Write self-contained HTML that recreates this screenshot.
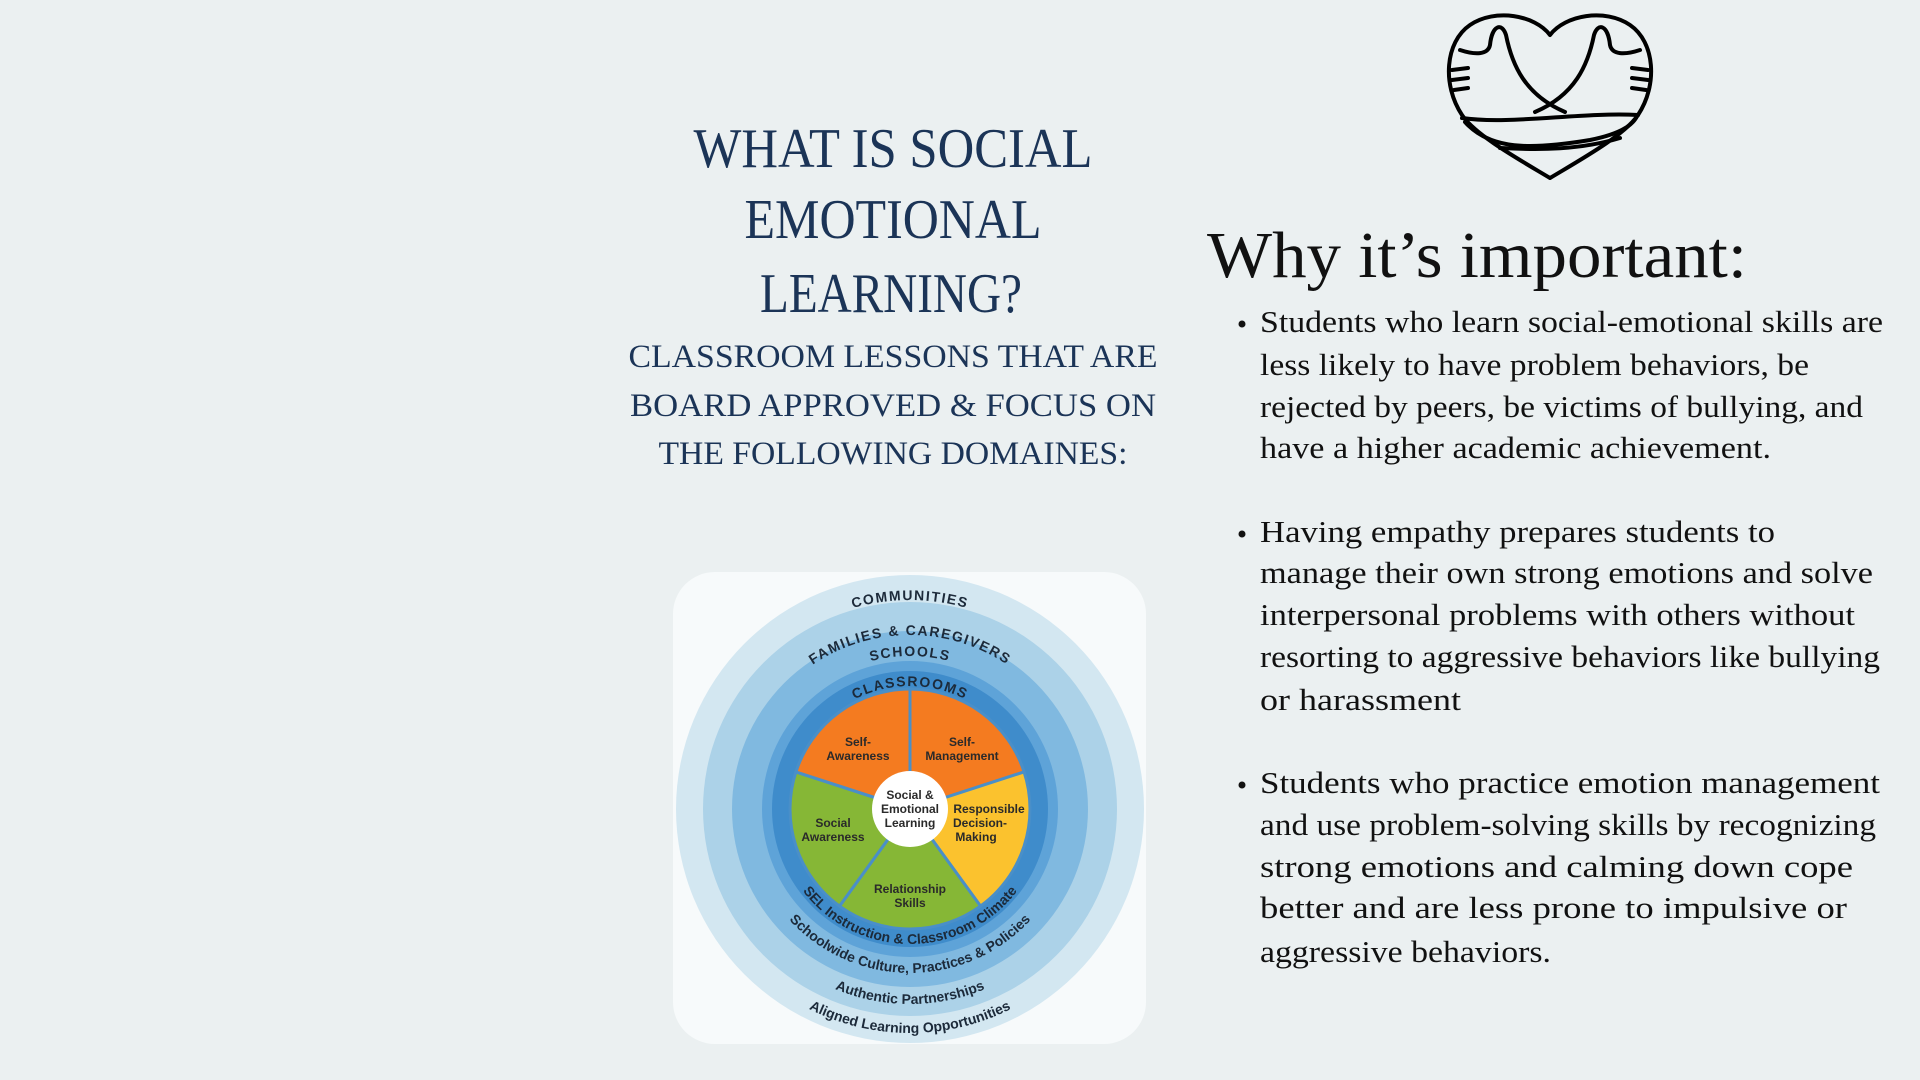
<!DOCTYPE html>
<html><head><meta charset="utf-8"><style>
html,body{margin:0;padding:0;background:#ebf0f1;}
svg{display:block}
</style></head><body>
<svg width="1920" height="1080" viewBox="0 0 1920 1080" xmlns="http://www.w3.org/2000/svg">
<rect width="1920" height="1080" fill="#ebf0f1"/>
<g font-family="Liberation Serif, serif" fill="#1b3457" text-anchor="middle">
<text x="893" y="167" font-size="56" textLength="399" lengthAdjust="spacingAndGlyphs">WHAT IS SOCIAL</text>
<text x="893" y="238" font-size="56" textLength="297" lengthAdjust="spacingAndGlyphs">EMOTIONAL</text>
<text x="891" y="312" font-size="56" textLength="262" lengthAdjust="spacingAndGlyphs">LEARNING?</text>
<text x="893" y="367" font-size="33" textLength="529" lengthAdjust="spacingAndGlyphs">CLASSROOM LESSONS THAT ARE</text>
<text x="893" y="416" font-size="33" textLength="526" lengthAdjust="spacingAndGlyphs">BOARD APPROVED &amp; FOCUS ON</text>
<text x="893" y="464" font-size="33" textLength="469" lengthAdjust="spacingAndGlyphs">THE FOLLOWING DOMAINES:</text>
</g>
<g font-family="Liberation Serif, serif" fill="#111">
<text x="1207" y="277" font-size="66" textLength="540" lengthAdjust="spacingAndGlyphs">Why it’s important:</text>
<g font-size="31">
<circle cx="1242" cy="324" r="3.5"/>
<text x="1260" y="332" textLength="623" lengthAdjust="spacingAndGlyphs">Students who learn social-emotional skills are</text>
<text x="1260" y="375" textLength="549" lengthAdjust="spacingAndGlyphs">less likely to have problem behaviors, be</text>
<text x="1260" y="417" textLength="603" lengthAdjust="spacingAndGlyphs">rejected by peers, be victims of bullying, and</text>
<text x="1260" y="458" textLength="511" lengthAdjust="spacingAndGlyphs">have a higher academic achievement.</text>
<circle cx="1242" cy="534" r="3.5"/>
<text x="1260" y="542" textLength="515" lengthAdjust="spacingAndGlyphs">Having empathy prepares students to</text>
<text x="1260" y="583" textLength="613" lengthAdjust="spacingAndGlyphs">manage their own strong emotions and solve</text>
<text x="1260" y="625" textLength="595" lengthAdjust="spacingAndGlyphs">interpersonal problems with others without</text>
<text x="1260" y="667" textLength="620" lengthAdjust="spacingAndGlyphs">resorting to aggressive behaviors like bullying</text>
<text x="1260" y="710" textLength="201" lengthAdjust="spacingAndGlyphs">or harassment</text>
<circle cx="1242" cy="785" r="3.5"/>
<text x="1260" y="793" textLength="620" lengthAdjust="spacingAndGlyphs">Students who practice emotion management</text>
<text x="1260" y="835" textLength="616" lengthAdjust="spacingAndGlyphs">and use problem-solving skills by recognizing</text>
<text x="1260" y="877" textLength="593" lengthAdjust="spacingAndGlyphs">strong emotions and calming down cope</text>
<text x="1260" y="918" textLength="587" lengthAdjust="spacingAndGlyphs">better and are less prone to impulsive or</text>
<text x="1260" y="962" textLength="291" lengthAdjust="spacingAndGlyphs">aggressive behaviors.</text>
</g></g>

<!-- heart hug icon -->
<g transform="translate(1420,0)" fill="none" stroke="#000" stroke-width="4" stroke-linecap="round" stroke-linejoin="round">
<path d="M130,35 C115,15 75,8 50,25 C25,42 22,85 42,115 C55,135 100,160 130,178 C160,160 205,135 218,115 C238,85 235,42 210,25 C185,8 145,15 130,35 Z"/>
<path d="M40,50 C55,55 68,55 70,45 C72,25 82,22 86,35 C92,65 105,95 145,112"/>
<path d="M220,50 C205,55 192,55 190,45 C188,25 178,22 174,35 C168,65 155,95 115,112"/>
<path d="M32,70 L48,68 M32,80 L48,78 M34,90 L48,88"/>
<path d="M228,70 L212,68 M228,80 L212,78 M226,90 L212,88"/>
<path d="M42,118 C90,125 160,112 218,115"/>
<path d="M45,122 C70,150 110,150 170,140 C195,135 210,128 216,118"/>
<path d="M80,148 C120,150 160,150 200,138"/>
</g>

<!-- SEL wheel -->
<rect x="673" y="572" width="473" height="472" rx="42" fill="#f7fafb"/>
<g transform="translate(910,809)">
<circle r="234" fill="#d3e7f1"/>
<circle r="207" fill="#acd2e8"/>
<circle r="178" fill="#80b9e0"/>
<circle r="148" fill="#5ea3d8"/>
<circle r="138" fill="#3f8ccb"/>
<g stroke="#4a8fc8" stroke-width="3">
<path d="M0,0 L0,-120 A120,120 0 0 1 114.1,-37.1 Z" fill="#f47b20"/>
<path d="M0,0 L114.1,-37.1 A120,120 0 0 1 70.5,97.1 Z" fill="#fbc22e"/>
<path d="M0,0 L70.5,97.1 A120,120 0 0 1 -70.5,97.1 Z" fill="#86b736"/>
<path d="M0,0 L-70.5,97.1 A120,120 0 0 1 -114.1,-37.1 Z" fill="#86b736"/>
<path d="M0,0 L-114.1,-37.1 A120,120 0 0 1 0,-120 Z" fill="#f47b20"/>
</g>
<circle r="38" fill="#fff"/>
<defs>
<path id="t1" d="M-209,0 A209,209 0 0 1 209,0"/>
<path id="t2" d="M-174,0 A174,174 0 0 1 174,0"/>
<path id="t3" d="M-153,0 A153,153 0 0 1 153,0"/>
<path id="t4" d="M-123,0 A123,123 0 0 1 123,0"/>
<path id="b1" d="M-135,0 A135,135 0 0 0 135,0"/>
<path id="b2" d="M-164,0 A164,164 0 0 0 164,0"/>
<path id="b3" d="M-195,0 A195,195 0 0 0 195,0"/>
<path id="b4" d="M-224,0 A224,224 0 0 0 224,0"/>
</defs>
<g font-family="Liberation Sans, sans-serif" font-weight="bold" fill="#1c2a3a" text-anchor="middle">
<text font-size="14" letter-spacing="1.5"><textPath href="#t1" startOffset="50%">COMMUNITIES</textPath></text>
<text font-size="14" letter-spacing="1.5"><textPath href="#t2" startOffset="50%">FAMILIES &amp; CAREGIVERS</textPath></text>
<text font-size="14" letter-spacing="1.5"><textPath href="#t3" startOffset="50%">SCHOOLS</textPath></text>
<text font-size="14" letter-spacing="1.5"><textPath href="#t4" startOffset="50%">CLASSROOMS</textPath></text>
<text font-size="14"><textPath href="#b1" startOffset="50%">SEL Instruction &amp; Classroom Climate</textPath></text>
<text font-size="14"><textPath href="#b2" startOffset="50%">Schoolwide Culture, Practices &amp; Policies</textPath></text>
<text font-size="14"><textPath href="#b3" startOffset="50%">Authentic Partnerships</textPath></text>
<text font-size="14"><textPath href="#b4" startOffset="50%">Aligned Learning Opportunities</textPath></text>
</g>
<g font-family="Liberation Sans Narrow, Liberation Sans, sans-serif" font-weight="bold" font-size="12" fill="#2a2a2a" text-anchor="middle">
<text x="-52" y="-63">Self-</text><text x="-52" y="-49">Awareness</text>
<text x="52" y="-63">Self-</text><text x="52" y="-49">Management</text>
<text x="-77" y="18">Social</text><text x="-77" y="32">Awareness</text>
<text x="79" y="4">Responsible</text><text x="70" y="18">Decision-</text><text x="66" y="32">Making</text>
<text x="0" y="84">Relationship</text><text x="0" y="98">Skills</text>
<text x="0" y="-10">Social &amp;</text><text x="0" y="4">Emotional</text><text x="0" y="18">Learning</text>
</g>
</g>
</svg>
</body></html>
